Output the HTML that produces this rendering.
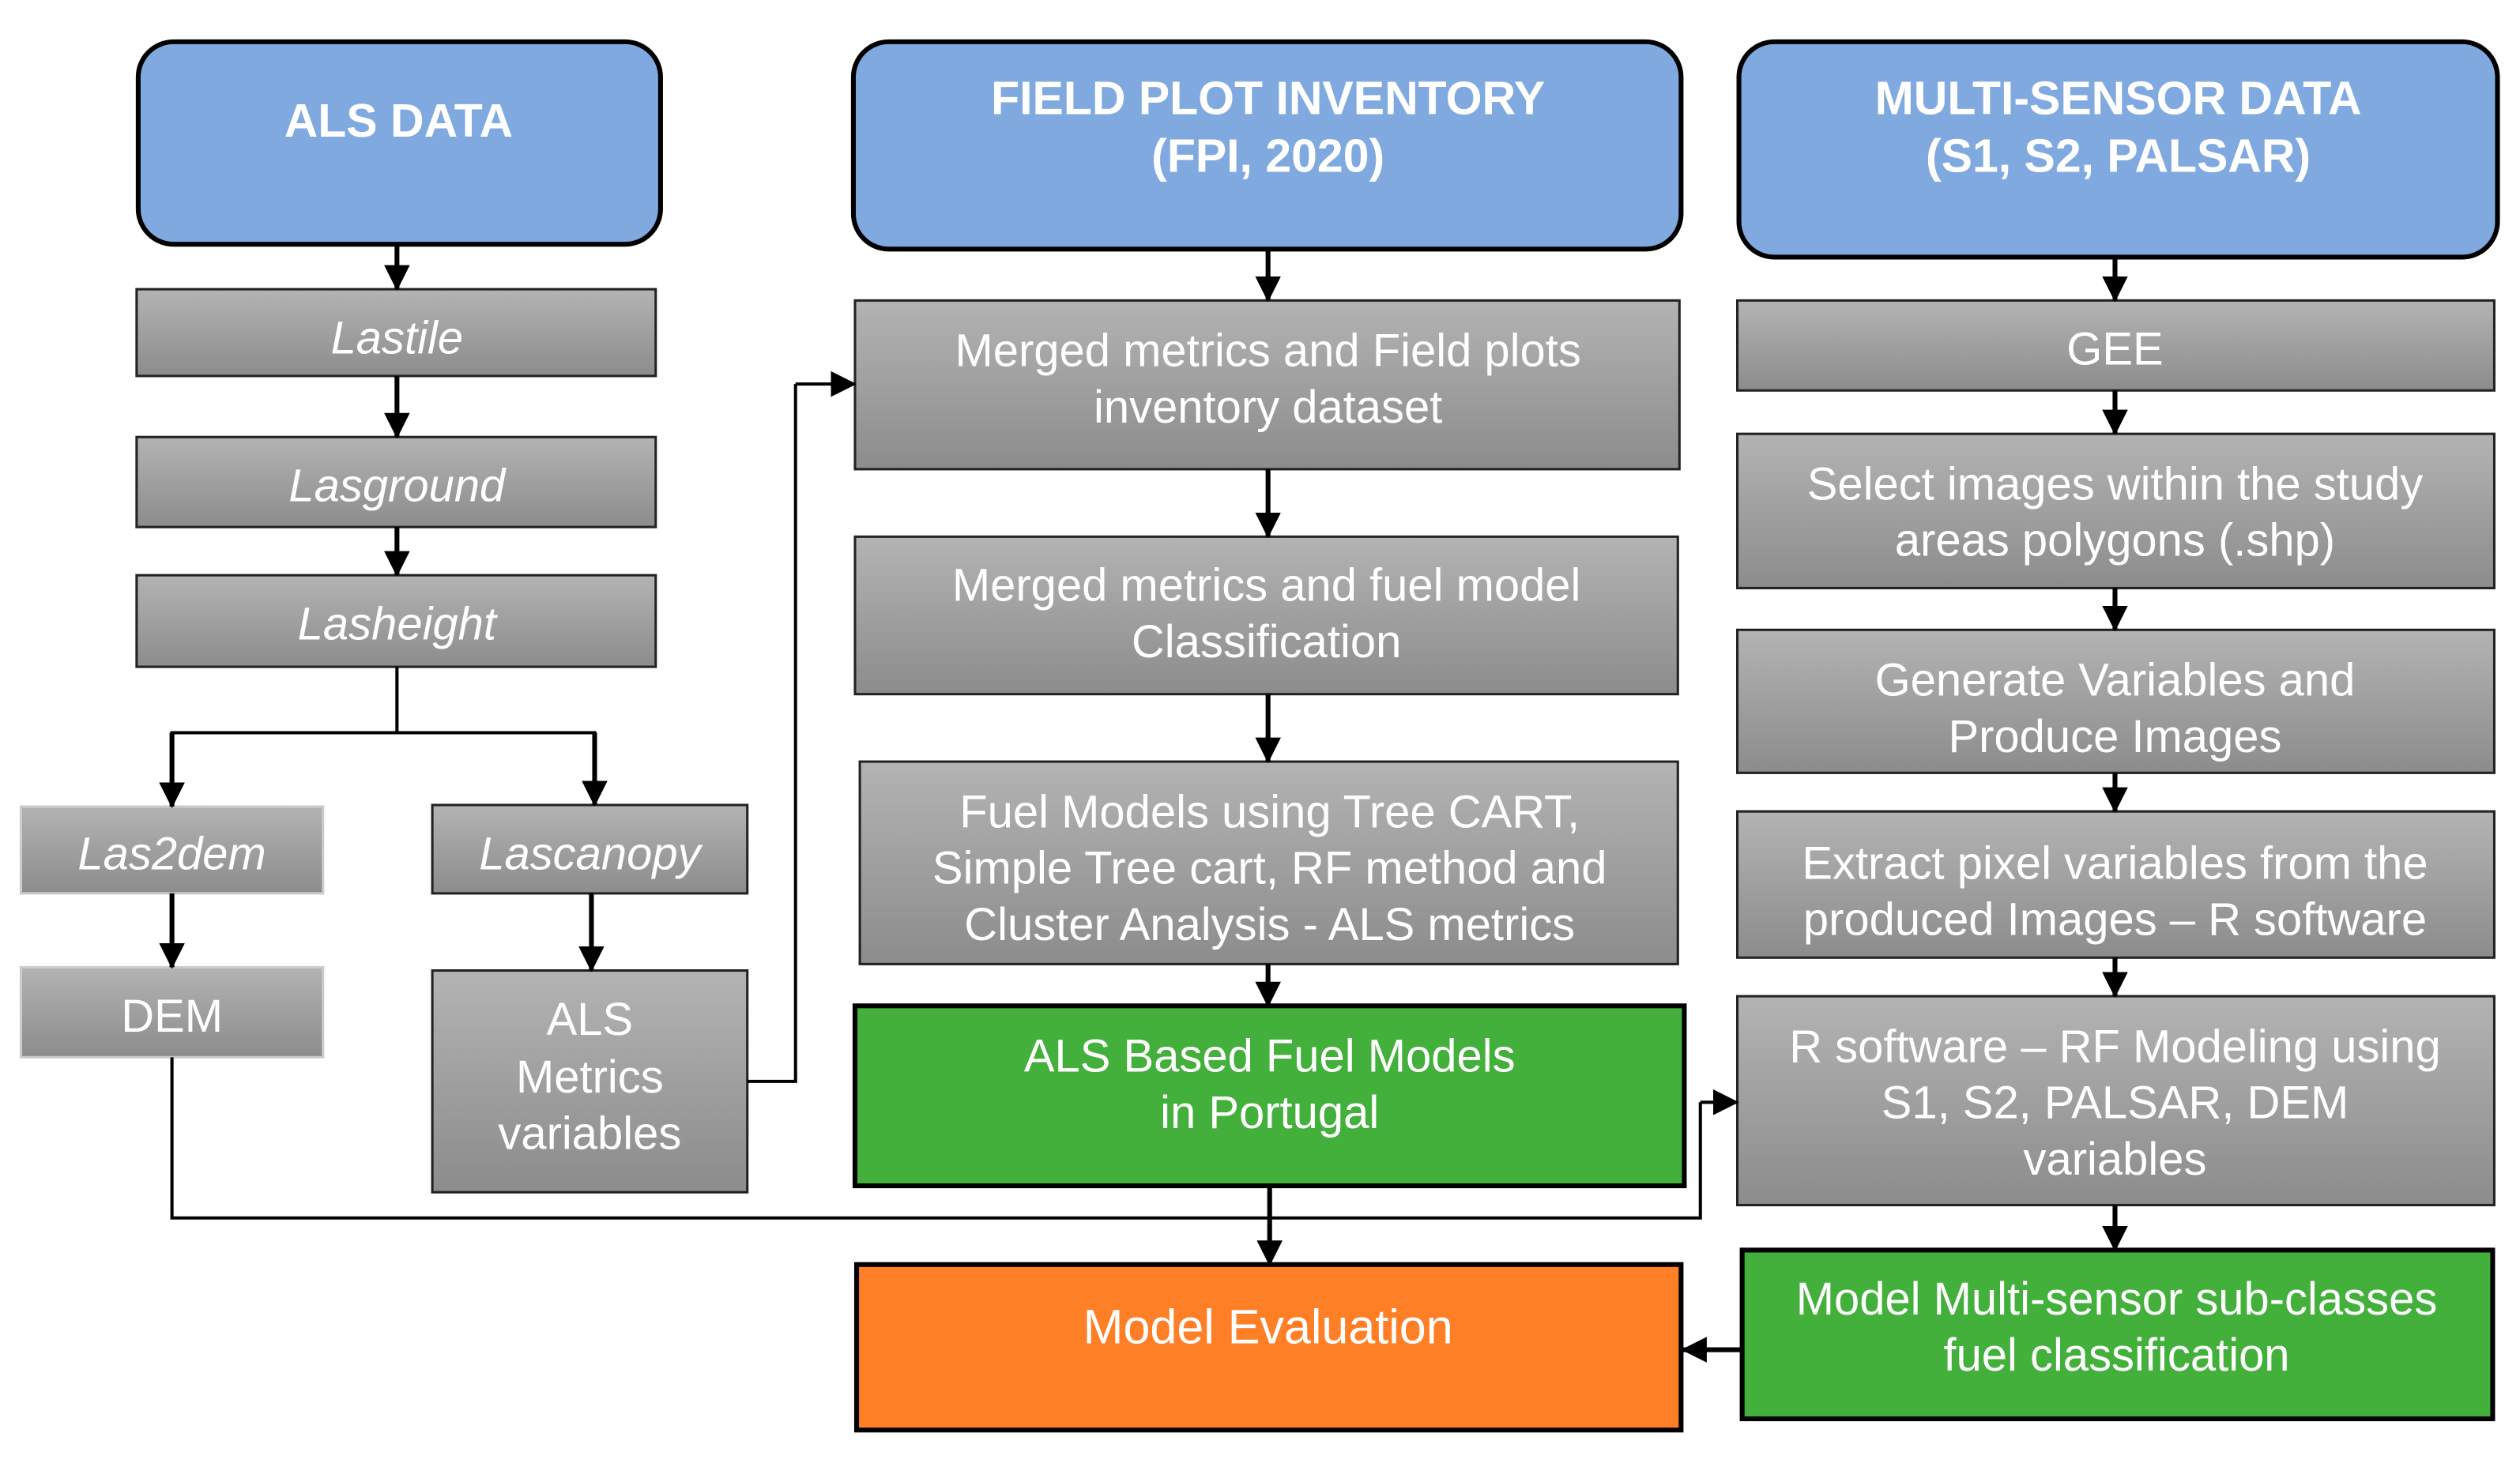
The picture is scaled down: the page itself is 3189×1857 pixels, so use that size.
<!DOCTYPE html>
<html><head><meta charset="utf-8"><style>
html,body{margin:0;padding:0;background:#fff;}
svg{display:block;}
text{font-family:"Liberation Sans",Arial,sans-serif;fill:#fff;text-anchor:middle;}
</style></head><body>
<svg width="3189" height="1857" viewBox="0 0 1568 913" preserveAspectRatio="none" xmlns="http://www.w3.org/2000/svg">
<defs>
<linearGradient id="g" x1="0" y1="0" x2="0" y2="1"><stop offset="0" stop-color="#b3b3b3"/><stop offset="1" stop-color="#8c8c8c"/></linearGradient>
<marker id="b" markerWidth="16" markerHeight="16" refX="15" refY="8" orient="auto" markerUnits="userSpaceOnUse"><path d="M0,0 L16,8 L0,16 z" fill="#000"/></marker>
</defs>
<g stroke="#000" stroke-width="3" fill="#80aadf">
<rect x="86" y="26" width="325" height="126" rx="22"/>
<rect x="531" y="26" width="515" height="129" rx="22"/>
<rect x="1082" y="26" width="472" height="134" rx="22"/>
</g>
<g font-weight="bold" font-size="29">
<text x="248" y="85">ALS DATA</text>
<text x="789" y="71">FIELD PLOT INVENTORY</text>
<text x="789" y="107">(FPI, 2020)</text>
<text x="1318" y="71">MULTI-SENSOR DATA</text>
<text x="1318" y="107">(S1, S2, PALSAR)</text>
</g>
<g fill="url(#g)" stroke="#222" stroke-width="1.5">
<rect x="85" y="180" width="323" height="54"/>
<rect x="85" y="272" width="323" height="56"/>
<rect x="85" y="358" width="323" height="57"/>
<rect x="269" y="501" width="196" height="55"/>
<rect x="269" y="604" width="196" height="138"/>
<rect x="532" y="187" width="513" height="105"/>
<rect x="532" y="334" width="512" height="98"/>
<rect x="535" y="474" width="509" height="126"/>
<rect x="1081" y="187" width="471" height="56"/>
<rect x="1081" y="270" width="471" height="96"/>
<rect x="1081" y="392" width="471" height="89"/>
<rect x="1081" y="505" width="471" height="91"/>
<rect x="1081" y="620" width="471" height="130"/>
</g>
<g fill="url(#g)" stroke="#ccc" stroke-width="1.5">
<rect x="13" y="502" width="188" height="54"/>
<rect x="13" y="602" width="188" height="56"/>
</g>
<rect x="532" y="626" width="516" height="112" fill="#43b03c" stroke="#000" stroke-width="3"/>
<rect x="533" y="787" width="513" height="103" fill="#ff7f27" stroke="#000" stroke-width="3"/>
<rect x="1084" y="778" width="467" height="105" fill="#43b03c" stroke="#000" stroke-width="3"/>
<g font-size="28.5" font-style="italic">
<text x="247" y="220">Lastile</text>
<text x="247" y="312">Lasground</text>
<text x="247" y="398">Lasheight</text>
<text x="107" y="541">Las2dem</text>
<text x="367" y="541">Lascanopy</text>
</g>
<g font-size="28.5">
<text x="107" y="642">DEM</text>
<text x="367" y="644">ALS</text>
<text x="367" y="680">Metrics</text>
<text x="367" y="715">variables</text>
<text x="789" y="228">Merged metrics and Field plots</text>
<text x="789" y="263">inventory dataset</text>
<text x="788" y="374">Merged metrics and fuel model</text>
<text x="788" y="409">Classification</text>
<text x="790" y="515">Fuel Models using Tree CART,</text>
<text x="790" y="550">Simple Tree cart, RF method and</text>
<text x="790" y="585">Cluster Analysis - ALS metrics</text>
<text x="790" y="667">ALS Based Fuel Models</text>
<text x="790" y="702">in Portugal</text>
<text x="789" y="836" font-size="30">Model Evaluation</text>
<text x="1316" y="227">GEE</text>
<text x="1316" y="311">Select images within the study</text>
<text x="1316" y="346">areas polygons (.shp)</text>
<text x="1316" y="433">Generate Variables and</text>
<text x="1316" y="468">Produce Images</text>
<text x="1316" y="547">Extract pixel variables from the</text>
<text x="1316" y="582">produced Images – R software</text>
<text x="1316" y="661">R software – RF Modeling using</text>
<text x="1316" y="696">S1, S2, PALSAR, DEM</text>
<text x="1316" y="731">variables</text>
<text x="1317" y="818">Model Multi-sensor sub-classes</text>
<text x="1317" y="853">fuel classification</text>
</g>
<g stroke="#000" stroke-width="3" fill="none" marker-end="url(#b)">
<line x1="247" y1="152" x2="247" y2="180"/>
<line x1="247" y1="234" x2="247" y2="272"/>
<line x1="247" y1="328" x2="247" y2="358"/>
<polyline points="107,456 107,502"/>
<polyline points="370,456 370,501"/>
<line x1="107" y1="556" x2="107" y2="602"/>
<line x1="368" y1="556" x2="368" y2="604"/>
<line x1="789" y1="155" x2="789" y2="187"/>
<line x1="789" y1="292" x2="789" y2="334"/>
<line x1="789" y1="432" x2="789" y2="474"/>
<line x1="789" y1="600" x2="789" y2="626"/>
<line x1="790" y1="738" x2="790" y2="787"/>
<line x1="1316" y1="160" x2="1316" y2="187"/>
<line x1="1316" y1="243" x2="1316" y2="270"/>
<line x1="1316" y1="366" x2="1316" y2="392"/>
<line x1="1316" y1="481" x2="1316" y2="505"/>
<line x1="1316" y1="596" x2="1316" y2="620"/>
<line x1="1316" y1="750" x2="1316" y2="778"/>
<line x1="1083" y1="840" x2="1047" y2="840"/>
</g>
<g stroke="#000" stroke-width="2" fill="none">
<line x1="247" y1="415" x2="247" y2="456"/>
<line x1="106" y1="456" x2="371" y2="456"/>
<polyline points="107,658 107,758 1058,758 1058,686"/>
<polyline points="465,673 495,673 495,239"/>
</g>
<g stroke="#000" stroke-width="2" fill="none" marker-end="url(#b)">
<line x1="495" y1="239" x2="532" y2="239"/>
<line x1="1058" y1="686" x2="1081" y2="686"/>
</g>
</svg>
</body></html>
